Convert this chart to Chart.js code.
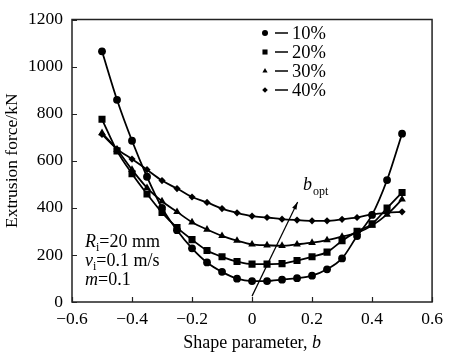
<!DOCTYPE html>
<html>
<head>
<meta charset="utf-8">
<script src="https://cdn.jsdelivr.net/npm/chart.js@4/dist/chart.umd.min.js"></script>
<style>
html,body{margin:0;padding:0;background:#fff;}
#wrap{width:450px;height:355px;position:relative;}
</style>
</head>
<body>
<div id="wrap"><canvas id="c" width="450" height="355"></canvas></div>
<script>
// ---- data ----
const bValues = [-0.5,-0.45,-0.4,-0.35,-0.3,-0.25,-0.2,-0.15,-0.1,-0.05,0,0.05,0.1,0.15,0.2,0.25,0.3,0.35,0.4,0.45,0.5];
const force10 = [1065,859,685,532,400,305,228,168,128,99,89,89,95,101,112,139,185,280,370,518,715];
const force20 = [776,642,545,459,380,316,265,219,192,172,161,161,163,176,192,212,260,300,332,399,465];
const force30 = [718,648,562,485,428,383,339,308,281,261,245,241,239,245,252,263,278,294,325,372,436];
const force40 = [712,650,607,562,516,482,446,423,397,379,365,359,352,348,345,345,351,359,372,379,383];
const seriesLabels = ['10%','20%','30%','40%'];
const xTicks = [-0.6,-0.4,-0.2,0,0.2,0.4,0.6];
const yTicks = [0,200,400,600,800,1000,1200];
const xTitle = 'Shape parameter, ';
const yTitle = 'Extrusion force/kN';

const SERIF = '"Liberation Serif","Times New Roman",serif';
const styles = [
  {pointStyle:'circle', r:3.9},
  {pointStyle:'rect', r:5.0},
  {pointStyle:'triangle', r:4.4},
  {pointStyle:'rectRot', r:3.6}
];
const allSeries = [force10, force20, force30, force40];

const datasets = allSeries.map((arr, i) => ({
  label: seriesLabels[i],
  data: bValues.map((b, j) => ({x: b, y: arr[j]})),
  borderColor: '#000',
  backgroundColor: '#000',
  borderWidth: 1.8,
  pointStyle: styles[i].pointStyle,
  pointRadius: styles[i].r,
  pointBorderWidth: 0,
  tension: 0.35,
  cubicInterpolationMode: 'monotone',
  fill: false
}));

const fmt = v => (v < 0 ? '\u2212' + Math.abs(v) : String(v));

const framePlugin = {
  id: 'frame',
  afterDatasetsDraw(chart) {
    const {ctx, chartArea: a, scales} = chart;
    const xs = scales.x, ys = scales.y;
    ctx.save();
    ctx.strokeStyle = '#222';
    ctx.lineWidth = 1.5;
    ctx.strokeRect(a.left, a.top, a.right - a.left, a.bottom - a.top);
    // inward ticks
    ctx.lineWidth = 1.2;
    ctx.beginPath();
    xTicks.forEach(v => {
      const px = Math.round(xs.getPixelForValue(v)) + 0.5;
      ctx.moveTo(px, a.bottom); ctx.lineTo(px, a.bottom - 5);
    });
    yTicks.forEach(v => {
      const py = Math.round(ys.getPixelForValue(v)) + 0.5;
      ctx.moveTo(a.left, py); ctx.lineTo(a.left + 5, py);
    });
    ctx.stroke();

    // axis titles
    ctx.fillStyle = '#000';
    ctx.font = '18px ' + SERIF;
    ctx.textBaseline = 'alphabetic';
    const w1 = ctx.measureText(xTitle).width;
    ctx.font = 'italic 18px ' + SERIF;
    const w2 = ctx.measureText('b').width;
    const cx = (a.left + a.right) / 2;
    let sx = cx - (w1 + w2) / 2;
    ctx.font = '18px ' + SERIF;
    ctx.textAlign = 'left';
    ctx.fillText(xTitle, sx, 348);
    ctx.font = 'italic 18px ' + SERIF;
    ctx.fillText('b', sx + w1, 348);

    ctx.save();
    ctx.translate(17, (a.top + a.bottom) / 2);
    ctx.rotate(-Math.PI / 2);
    ctx.font = '17.5px ' + SERIF;
    ctx.textAlign = 'center';
    ctx.fillText(yTitle, 0, 0);
    ctx.restore();

    // legend
    const lx = 265, ly0 = 33, dy = 19;
    chart.data.datasets.forEach((ds, i) => {
      const y = ly0 + i * dy;
      ctx.fillStyle = '#000';
      Chart.helpers.drawPoint(ctx, {pointStyle: ds.pointStyle, radius: ds.pointStyle === 'rect' ? 3.6 : (ds.pointStyle === 'rectRot' ? 2.8 : 3), borderWidth: 0}, lx, y);
      ctx.beginPath();
      ctx.strokeStyle = '#000';
      ctx.lineWidth = 1.5;
      ctx.moveTo(275, y); ctx.lineTo(288, y);
      ctx.stroke();
      ctx.font = '18.5px ' + SERIF;
      ctx.textAlign = 'left';
      ctx.textBaseline = 'middle';
      ctx.fillText(ds.label, 292, y + 1);
    });

    // parameter text block
    ctx.textBaseline = 'alphabetic';
    const drawSub = (x, y, main, sub, rest, italicMain) => {
      ctx.font = (italicMain ? 'italic ' : '') + '18px ' + SERIF;
      ctx.fillText(main, x, y);
      x += ctx.measureText(main).width;
      if (sub) {
        ctx.font = '12px ' + SERIF;
        ctx.fillText(sub, x, y + 4);
        x += ctx.measureText(sub).width;
      }
      ctx.font = '18px ' + SERIF;
      ctx.fillText(rest, x, y);
    };
    ctx.textAlign = 'left';
    drawSub(85, 247, 'R', 'i', '=20 mm', true);
    drawSub(85, 266, 'v', 'i', '=0.1 m/s', true);
    drawSub(85, 285, 'm', '', '=0.1', true);

    // b_opt arrow annotation
    const x0 = xs.getPixelForValue(0), y0 = ys.getPixelForValue(25);
    const x1 = xs.getPixelForValue(0.152), y1 = ys.getPixelForValue(425);
    ctx.strokeStyle = '#000';
    ctx.lineWidth = 1.2;
    ctx.beginPath(); ctx.moveTo(x0, y0); ctx.lineTo(x1, y1); ctx.stroke();
    const ang = Math.atan2(y1 - y0, x1 - x0);
    ctx.beginPath();
    ctx.moveTo(x1, y1);
    ctx.lineTo(x1 - 8 * Math.cos(ang - 0.3), y1 - 8 * Math.sin(ang - 0.3));
    ctx.lineTo(x1 - 8 * Math.cos(ang + 0.3), y1 - 8 * Math.sin(ang + 0.3));
    ctx.closePath(); ctx.fill();
    ctx.font = 'italic 18px ' + SERIF;
    ctx.fillText('b', 303, 190);
    const bw = ctx.measureText('b').width;
    ctx.font = '12px ' + SERIF;
    ctx.fillText('opt', 303 + bw + 1, 195);
    ctx.restore();
  }
};

new Chart(document.getElementById('c'), {
  type: 'line',
  data: {datasets},
  options: {
    responsive: false,
    animation: false,
    layout: {padding: {top: 4, right: 10, left: 0, bottom: 0}},
    plugins: {legend: {display: false}, tooltip: {enabled: false}},
    scales: {
      x: {
        type: 'linear', min: -0.6, max: 0.6,
        afterBuildTicks: s => { s.ticks = xTicks.map(v => ({value: v})); },
        afterFit: s => { s.height = 53; },
        grid: {display: false, drawTicks: false},
        border: {display: false},
        ticks: {color: '#000', font: {family: SERIF, size: 17.5}, padding: 7, maxRotation: 0,
                callback: v => fmt(Math.round(v * 10) / 10)}
      },
      y: {
        type: 'linear', min: 0, max: 1200,
        afterBuildTicks: s => { s.ticks = yTicks.map(v => ({value: v})); },
        afterFit: s => { s.width = 72; },
        grid: {display: false, drawTicks: false},
        border: {display: false},
        ticks: {color: '#000', font: {family: SERIF, size: 17.5}, padding: 9,
                callback: v => fmt(v)}
      }
    }
  },
  plugins: [framePlugin]
});
</script>
</body>
</html>
